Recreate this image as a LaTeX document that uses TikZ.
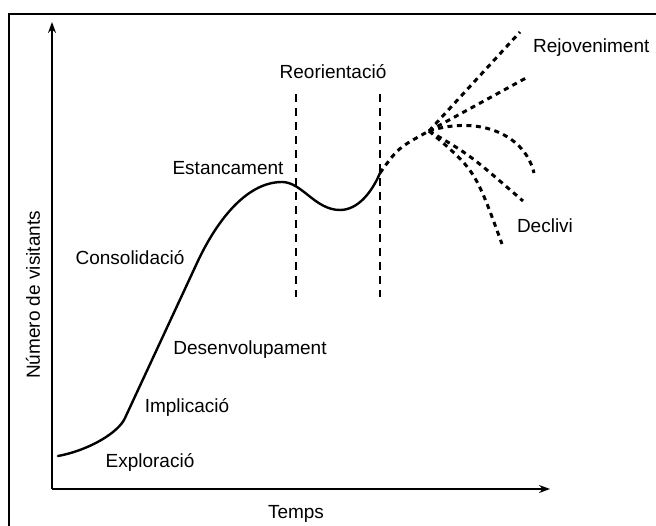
\documentclass[tikz,border=0pt]{standalone}
\usepackage{fontspec}
\setmainfont{Liberation Sans}
\usetikzlibrary{arrows.meta}

\begin{document}
\begin{tikzpicture}[x=1pt, y=-1pt, every node/.style={font=\fontsize{19}{22}\selectfont, inner sep=0pt},
axis/.style={line width=1.5pt, -{Stealth[length=11pt, width=8pt]}},
guide/.style={line width=1.2pt, dash pattern=on 8pt off 6pt},
branch/.style={line width=3pt, dash pattern=on 5pt off 4.5pt}]

\useasboundingbox (0,0) rectangle (656,526);
\fill[white] (0,0) rectangle (656,526);
\draw[line width=2.5pt] (9,526) -- (9,14) -- (656,14);

\coordinate (o) at (52,489);
\coordinate (ytop) at (52,22);
\coordinate (xend) at (550,489);
\draw[axis] (o) -- (ytop);
\draw[axis] (o) -- (xend);

\node (temps) at (296,514) {Temps};
\node[rotate=90] (visitants) at (33,295) {Número de visitants};

% corba principal
\coordinate (inici) at (58,456);
\coordinate (colze) at (125,418);
\coordinate (pujada) at (197,263);
\coordinate (cim) at (282,182);
\coordinate (vall) at (340,210);
\coordinate (reprise) at (380,173);
\draw[line width=2.4pt, line cap=round] (inici) .. controls (90,450) and (119,432) .. (colze)
  -- (pujada) .. controls (215,224) and (245,182) .. (cim)
  .. controls (302,182) and (315,210) .. (vall)
  .. controls (358,210) and (372,192) .. (reprise);
\coordinate (ramif) at (429,131);
\draw[branch] (reprise) .. controls (398,148) .. (ramif);

% reorientacio
\draw[guide] (296,94) -- (296,297);
\draw[guide] (380,94) -- (380,297);
\node (reor) at (333,72) {Reorientació};

% branques
\coordinate (rej1) at (520,32);
\coordinate (rej2) at (526,78);
\coordinate (dec1) at (534,173);
\coordinate (dec2) at (523,201);
\coordinate (dec3) at (502,244);
\draw[branch] (ramif) -- (rej1);
\draw[branch] (ramif) -- (rej2);
\draw[branch] (ramif) .. controls (480,115) and (525,135) .. (dec1);
\draw[branch] (ramif) .. controls (470,155) .. (dec2);
\draw[branch] (ramif) .. controls (475,170) .. (dec3);

\node[anchor=west] (rejov) at (533,48) {Rejoveniment};
\node (decl) at (545,226) {Declivi};
\node (estanc) at (228,168) {Estancament};
\node (consol) at (130,258) {Consolidació};
\node (desenv) at (250,350) {Desenvolupament};
\node (impl) at (187,407) {Implicació};
\node (explor) at (150,462) {Exploració};
\end{tikzpicture}
\end{document}
